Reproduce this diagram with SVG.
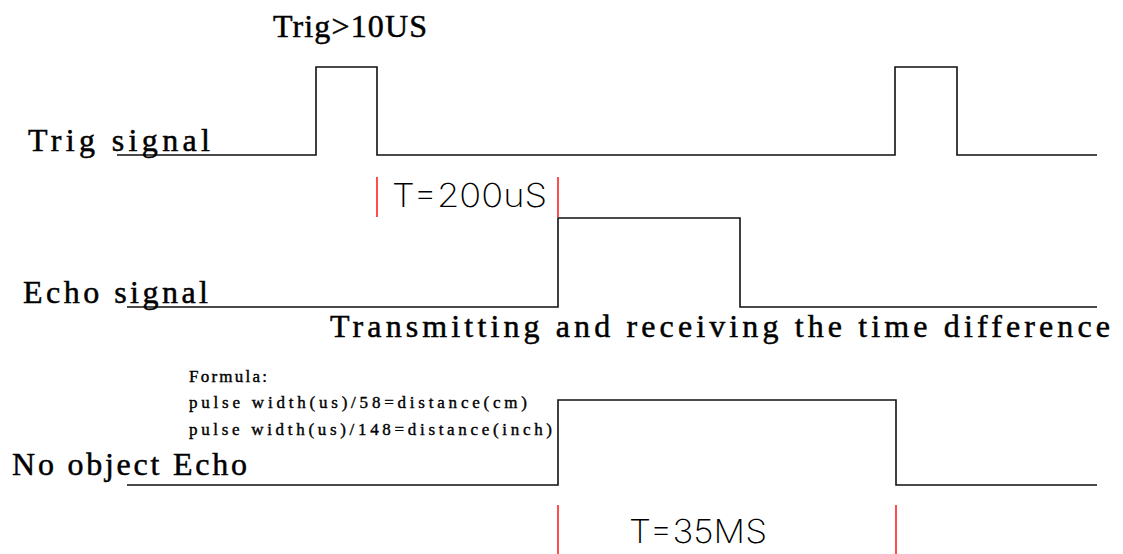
<svg xmlns="http://www.w3.org/2000/svg" width="1123" height="554" viewBox="0 0 1123 554">
<style>
.bg{fill:#fff}
.sig{fill:none;stroke:#111;stroke-width:1.6;stroke-linejoin:miter}
.mk{stroke:#ff0000;stroke-width:1.4}
.lbl{font-family:"Liberation Serif",serif;font-size:32px;font-weight:normal;fill:#000;stroke:#000;stroke-width:0.5}
.small{font-family:"Liberation Serif",serif;font-size:17px;font-weight:normal;fill:#000;stroke:#000;stroke-width:0.4}
.thin{font-family:Inter,"DejaVu Sans",sans-serif;font-size:33px;font-weight:200;fill:#000}
</style>
<rect class="bg" x="0" y="0" width="1123" height="554"/>
<g id="connectors">
<polyline id="trig-wave" class="sig" points="117,155 316,155 316,67 377,67 377,155 895,155 895,67 957,67 957,155 1097,155"/>
<polyline id="echo-wave" class="sig" points="127,307 558,307 558,218 740,218 740,307 1097,307"/>
<polyline id="noobj-wave" class="sig" points="127,485 558,485 558,400 896,400 896,485 1097,485"/>
<line class="mk" x1="377" y1="177" x2="377" y2="217"/>
<line class="mk" x1="558" y1="177" x2="558" y2="217"/>
<line class="mk" x1="558" y1="505" x2="558" y2="554"/>
<line class="mk" x1="896" y1="505" x2="896" y2="554"/>
</g>
<g id="trig-label"><text class="lbl" x="273" y="37" textLength="154" lengthAdjust="spacing">Trig&gt;10US</text></g>
<g id="trig-signal"><text class="lbl" x="28" y="151" textLength="182" lengthAdjust="spacing">Trig signal</text></g>
<g id="t200"><text class="thin" x="392" y="207" textLength="155" lengthAdjust="spacingAndGlyphs">T=200uS</text></g>
<g id="echo-signal"><text class="lbl" x="23" y="303" textLength="185" lengthAdjust="spacing">Echo signal</text></g>
<g id="time-diff"><text class="lbl" x="330" y="337" textLength="780" lengthAdjust="spacing">Transmitting and receiving the time difference</text></g>
<g id="formula">
<text class="small" x="189" y="382" textLength="78" lengthAdjust="spacing">Formula:</text>
<text class="small" x="189" y="408" textLength="338" lengthAdjust="spacing">pulse width(us)/58=distance(cm)</text>
<text class="small" x="189" y="435" textLength="363" lengthAdjust="spacing">pulse width(us)/148=distance(inch)</text>
</g>
<g id="no-object"><text class="lbl" x="12" y="475" textLength="235" lengthAdjust="spacing">No object Echo</text></g>
<g id="t35"><text class="thin" x="629" y="543" textLength="138" lengthAdjust="spacingAndGlyphs">T=35MS</text></g>
</svg>
